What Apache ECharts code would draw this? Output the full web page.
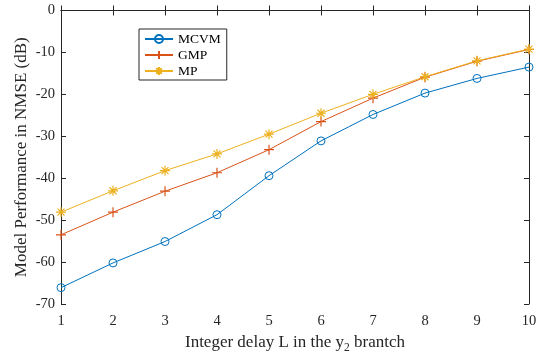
<!DOCTYPE html>
<html><head><meta charset="utf-8">
<script src="https://cdn.jsdelivr.net/npm/echarts@6/dist/echarts.min.js"></script>
<style>html,body{margin:0;padding:0;background:#fff}#c{width:542px;height:354px}</style>
</head><body><div id="c"></div>
<script>
var delays = [1,2,3,4,5,6,7,8,9,10];
var mcvm = [-66.1,-60.2,-55.1,-48.7,-39.4,-31.1,-24.8,-19.7,-16.2,-13.5];
var gmp  = [-53.5,-48.1,-43.1,-38.7,-33.2,-26.5,-20.9,-15.9,-12.1,-9.3];
var mp   = [-48.1,-43.0,-38.2,-34.2,-29.5,-24.5,-20.0,-15.8,-12.0,-9.2];
var seriesNames = ['MCVM','GMP','MP'];

function pairs(v){ return delays.map(function(x,i){ return [x, v[i]]; }); }
var font = 'Liberation Serif';
var colors = ['#0072BD','#D95319','#EDB120'];
var plusPath = 'path://M0,-1L0,1M-1,0L1,0';
var starPath = 'path://M0,-1L0,1M-1,0L1,0M-0.7,-0.7L0.7,0.7M-0.7,0.7L0.7,-0.7';

var chart = echarts.init(document.getElementById('c'), null, {renderer:'canvas'});
var axisCommon = {
  type:'value',
  axisLine:{show:true, lineStyle:{color:'#262626', width:1}},
  axisTick:{show:true, inside:true, length:5, lineStyle:{color:'#262626'}},
  splitLine:{show:false}
};
chart.setOption({
  animation:false,
  backgroundColor:'#fff',
  grid:{left:61, right:13, top:10.5, bottom:50, containLabel:false, outerBoundsMode:'none'},
  legend:{
    orient:'vertical', left:139, top:29,
    data:seriesNames,
    itemWidth:28, itemHeight:10, itemGap:2,
    padding:[3,6,2,5],
    borderColor:'#262626', borderWidth:1, backgroundColor:'#fff',
    textStyle:{fontFamily:font, fontSize:13.5, lineHeight:14, color:'#000'}
  },
  xAxis:[
    Object.assign({}, axisCommon, {
      position:'bottom', min:1, max:10, interval:1,
      axisLabel:{fontFamily:font, fontSize:14.5, color:'#262626', margin:10},
      name:'Integer delay L in the y{sub|2} brantch',
      nameLocation:'middle', nameGap:28, nameMoveOverlap:false,
      nameTextStyle:{fontFamily:font, fontSize:17, color:'#262626',
        rich:{sub:{fontFamily:font, fontSize:11.5, color:'#262626', padding:[10,0,0,0]}}}
    }),
    Object.assign({}, axisCommon, {
      position:'top', min:1, max:10, interval:1, axisLabel:{show:false}
    })
  ],
  yAxis:[
    Object.assign({}, axisCommon, {
      position:'left', min:-70, max:0, interval:10,
      axisLabel:{fontFamily:font, fontSize:14.5, color:'#262626', margin:6},
      name:'Model Performance in NMSE (dB)',
      nameLocation:'middle', nameGap:30.5, nameMoveOverlap:false,
      nameTextStyle:{fontFamily:font, fontSize:17, color:'#262626'}
    }),
    Object.assign({}, axisCommon, {
      position:'right', min:-70, max:0, interval:10, axisLabel:{show:false}
    })
  ],
  series:[
    {name:seriesNames[0], type:'line', data:pairs(mcvm), color:colors[0],
     symbol:'circle', symbolSize:8,
     lineStyle:{width:1, color:colors[0]},
     itemStyle:{color:'rgba(255,255,255,0)', borderColor:colors[0], borderWidth:1}},
    {name:seriesNames[1], type:'line', data:pairs(gmp), color:colors[1],
     symbol:plusPath, symbolSize:10,
     lineStyle:{width:1, color:colors[1]},
     itemStyle:{color:colors[1], borderColor:colors[1], borderWidth:1.2}},
    {name:seriesNames[2], type:'line', data:pairs(mp), color:colors[2],
     symbol:starPath, symbolSize:10,
     lineStyle:{width:1, color:colors[2]},
     itemStyle:{color:colors[2], borderColor:colors[2], borderWidth:1.2}}
  ]
});
</script></body></html>
